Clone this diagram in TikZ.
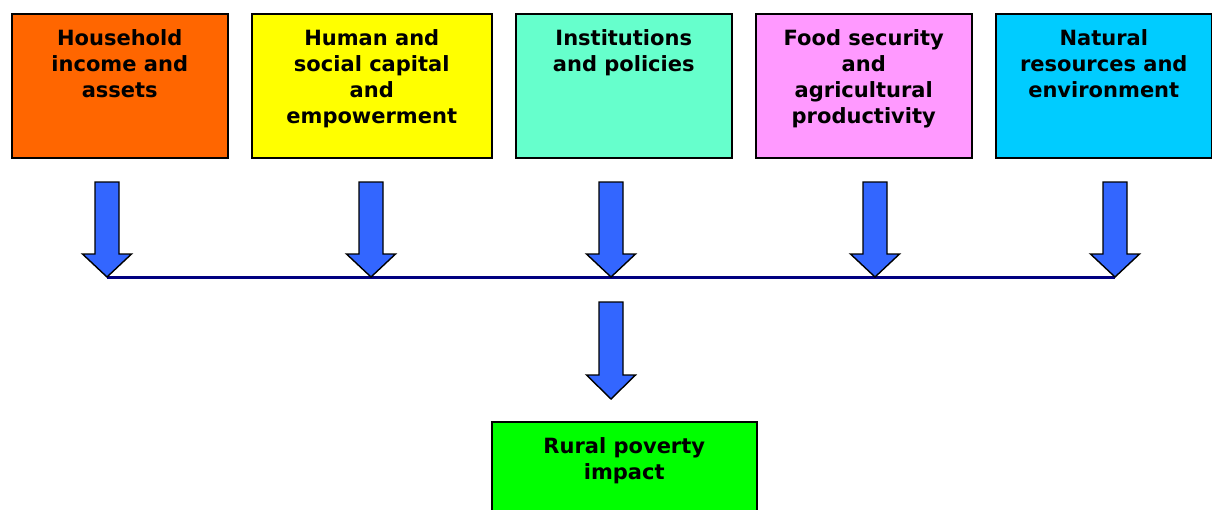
\documentclass[tikz,border=0pt]{standalone}
\usepackage{fontspec}
\setmainfont{DejaVu Sans}
\definecolor{cA}{HTML}{FF6600}
\definecolor{cB}{HTML}{FFFF00}
\definecolor{cC}{HTML}{66FFCC}
\definecolor{cD}{HTML}{FF99FF}
\definecolor{cE}{HTML}{00CCFF}
\definecolor{cF}{HTML}{00FF00}
\definecolor{arrowblue}{HTML}{3366FF}
\definecolor{navy}{HTML}{000080}
\newcommand\btxt[3]{\parbox[t][#2][t]{#1}{\centering\vspace*{15.5pt}#3\par}}
\newcommand\blockarrow[4]{%
  \draw[blockarr] (#1-12,#2) -- (#1+12,#2) -- (#1+12,#3) -- (#1+24.5,#3) -- (#1,#4)
    -- (#1-24.5,#3) -- (#1-12,#3) -- cycle;}
\begin{document}
\begin{tikzpicture}[x=1pt,y=-1pt,
  box/.style={draw=black, line width=1.5pt, inner sep=0pt, anchor=north west,
    font=\fontsize{21}{26}\selectfont\bfseries},
  blockarr/.style={draw=black, line width=1.4pt, fill=arrowblue, line join=miter},
  busline/.style={draw=navy, line width=3pt}]
\useasboundingbox (0,0) rectangle (1212,509);
\fill[white] (0,0) rectangle (1212,509);
\node[box, fill=cA] (b1) at (11,13) {\btxt{216pt}{144pt}{Household\\income and\\assets}};
\node[box, fill=cB] (b2) at (251,13) {\btxt{240pt}{144pt}{Human and\\social capital\\and\\empowerment}};
\node[box, fill=cC] (b3) at (515,13) {\btxt{216pt}{144pt}{Institutions\\and policies}};
\node[box, fill=cD] (b4) at (755,13) {\btxt{216pt}{144pt}{Food security\\and\\agricultural\\productivity}};
\node[box, fill=cE] (b5) at (995,13) {\btxt{216pt}{144pt}{Natural\\resources and\\environment}};
\node[box, fill=cF] (r) at (491,421) {\btxt{265pt}{100pt}{Rural poverty\\impact}};
\coordinate (L) at (107,277);
\coordinate (R) at (1115,277);
\draw[busline] (L) -- (R);
\blockarrow{107}{182}{254}{277}
\blockarrow{371}{182}{254}{277}
\blockarrow{611}{182}{254}{277}
\blockarrow{875}{182}{254}{277}
\blockarrow{1115}{182}{254}{277}
\blockarrow{611}{302}{375}{399}
\end{tikzpicture}
\end{document}
